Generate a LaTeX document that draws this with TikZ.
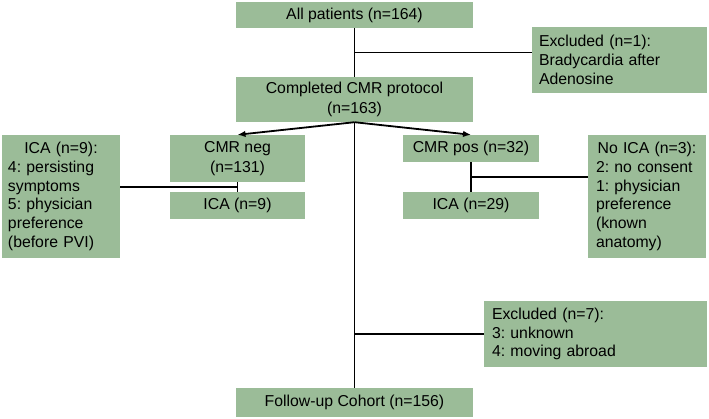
\documentclass[tikz,border=0pt]{standalone}
\usepackage{fontspec}
\setmainfont{Liberation Sans}
\usetikzlibrary{arrows.meta,calc}
\definecolor{boxgreen}{RGB}{155,188,152}
\frenchspacing
\tikzset{
  gbox/.style={fill=boxgreen, draw=none, inner sep=0pt, align=center,
    font=\fontsize{15.8}{18.7}\selectfont\frenchspacing},
  wide/.style={font=\fontsize{15.8}{20.5}\selectfont\frenchspacing},
  conn/.style={line width=1.8pt, black},
  arr/.style={conn, -{Latex[length=8pt,width=6.5pt]}},
}
\begin{document}
\begin{tikzpicture}[x=1pt,y=-1pt]
\useasboundingbox (0,0) rectangle (709,418);
\node[gbox, minimum width=237pt, minimum height=26pt] (all) at (354.5,15) {All patients (n=164)};
\node[gbox, text width=161pt, inner xsep=7pt, minimum height=66pt, align=left] (exc1) at (619.5,60) {Excluded (n=1):\\Bradycardia after\\Adenosine};
\node[gbox, wide, minimum width=237pt, minimum height=45pt] (comp) at (354.5,99.5) {Completed CMR protocol\\(n=163)};
\node[gbox, wide, minimum width=135pt, minimum height=47pt] (neg) at (237.5,158.5) {CMR neg\\(n=131)};
\node[gbox, minimum width=135pt, minimum height=27pt] (icaneg) at (237.5,205.5) {ICA (n=9)};
\node[gbox, text width=106pt, inner xsep=6pt, minimum height=123pt, align=left] (left) at (61,196.5) {\noindent\hfill ICA (n=9):\hfill\null\\4: persisting\\symptoms\\5: physician\\preference\\(before PVI)};
\node[gbox, minimum width=136pt, minimum height=27pt] (pos) at (471,148.5) {CMR pos (n=32)};
\node[gbox, minimum width=136pt, minimum height=27pt] (icapos) at (471,205.5) {ICA (n=29)};
\node[gbox, text width=102pt, inner xsep=8pt, minimum height=123pt, align=left] (noica) at (647,196.5) {\noindent\hfill No ICA (n=3):\hfill\null\\2: no consent\\1: physician\\preference\\(known\\anatomy)};
\node[gbox, text width=207pt, inner xsep=8pt, minimum height=66pt, align=left] (exc7) at (595.5,334) {Excluded (n=7):\\3: unknown\\4: moving abroad};
\node[gbox, minimum width=237pt, minimum height=29pt] (fu) at (354.5,402.5) {Follow-up Cohort (n=156)};

% main flow
\draw[conn] (all.south) -- (comp.north);
\coordinate (b1) at ($(all.south)!0.5!(comp.north)$);
\draw[conn] (b1) -- (b1 -| exc1.west);
\draw[conn] (comp.south) -- (fu.north);
\coordinate (b2) at (comp.south |- exc7.west);
\draw[conn] (b2) -- (exc7.west);
\draw[arr] (comp.south) -- (neg.north);
\draw[arr] (comp.south) -- (pos.north);
% CMR neg branch
\coordinate (m1) at ($(neg.south)!0.5!(icaneg.north)$);
\draw[conn] (neg.south) -- (icaneg.north);
\draw[conn] (left.east |- m1) -- (m1);
% CMR pos branch
\draw[conn] (pos.south) -- (icapos.north);
\coordinate (m2) at ($(pos.south)!0.5!(icapos.north)$);
\draw[conn] (m2) -- (m2 -| noica.west);
\end{tikzpicture}
\end{document}
